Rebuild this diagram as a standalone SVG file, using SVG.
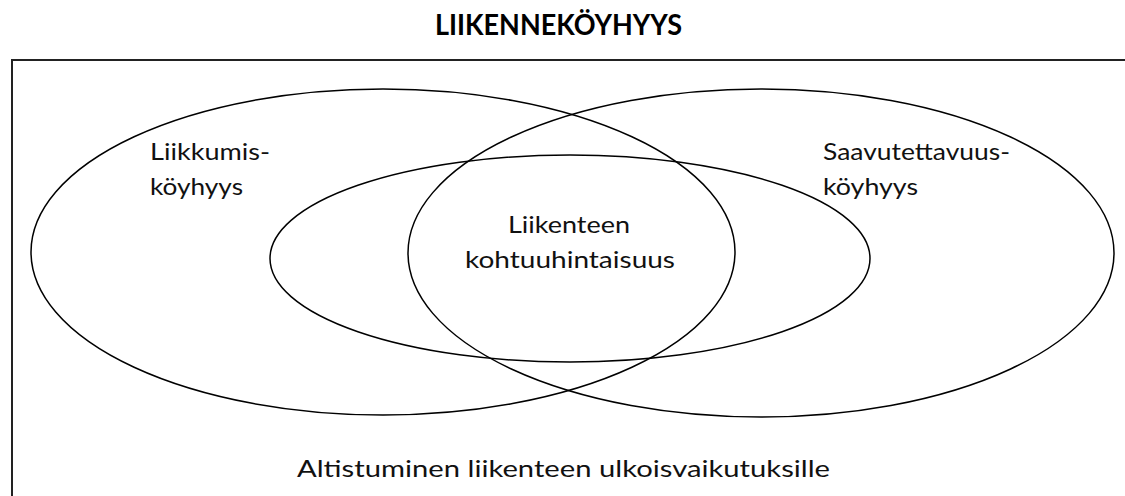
<svg xmlns="http://www.w3.org/2000/svg" width="1125" height="496" viewBox="0 0 1125 496">
  <style>
    .ell { fill: none; stroke: #000; stroke-width: 1.5; }
    .lbl { font-family: Lato, "Open Sans", "Liberation Sans", sans-serif; font-size: 24px; fill: #111; }
    .title { font-family: Lato, "Open Sans", "Liberation Sans", sans-serif; font-size: 28px; font-weight: bold; fill: #000; }
  </style>
  <rect width="1125" height="496" fill="#fff"/>
  <g id="title">
    <text class="title" x="435" y="35" textLength="247" lengthAdjust="spacingAndGlyphs">LIIKENNEKÖYHYYS</text>
  </g>
  <g id="frame">
    <rect x="12" y="60" width="1140" height="470" fill="none" stroke="#222" stroke-width="2"/>
    <text class="lbl" x="297" y="477" textLength="533" lengthAdjust="spacingAndGlyphs">Altistuminen liikenteen ulkoisvaikutuksille</text>
  </g>
  <g id="liikkumiskoyhyys">
    <ellipse class="ell" cx="383" cy="252" rx="352" ry="163"/>
    <text class="lbl" x="150" y="160" textLength="120" lengthAdjust="spacingAndGlyphs">Liikkumis-</text>
    <text class="lbl" x="150" y="195" textLength="93" lengthAdjust="spacingAndGlyphs">köyhyys</text>
  </g>
  <g id="saavutettavuuskoyhyys">
    <ellipse class="ell" cx="761" cy="253" rx="353" ry="164"/>
    <text class="lbl" x="823" y="160" textLength="187" lengthAdjust="spacingAndGlyphs">Saavutettavuus-</text>
    <text class="lbl" x="823" y="195" textLength="95" lengthAdjust="spacingAndGlyphs">köyhyys</text>
  </g>
  <g id="kohtuuhintaisuus">
    <ellipse class="ell" cx="570" cy="258.5" rx="300" ry="103.5"/>
    <text class="lbl" x="508" y="233" textLength="122" lengthAdjust="spacingAndGlyphs">Liikenteen</text>
    <text class="lbl" x="465" y="268" textLength="210" lengthAdjust="spacingAndGlyphs">kohtuuhintaisuus</text>
  </g>
  <g id="connectors"/>
</svg>
